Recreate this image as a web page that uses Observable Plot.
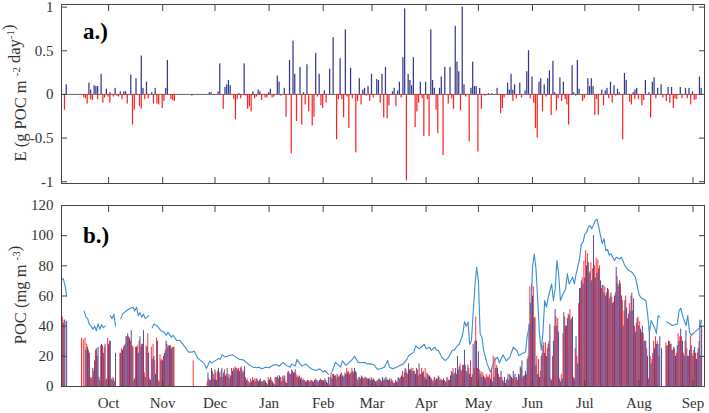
<!DOCTYPE html>
<html><head><meta charset="utf-8">
<script src="https://cdn.jsdelivr.net/npm/d3@7"></script>
<script src="https://cdn.jsdelivr.net/npm/@observablehq/plot@0.6"></script>
<style>
body{margin:0;background:#fff;}
#chart{position:relative;width:709px;height:413px;font-family:"Liberation Serif","Times New Roman",serif;}
#chart svg{position:absolute;left:0;overflow:visible;}
</style></head><body><div id="chart"></div>
<script>
// ---- axes / ticks ----
const startDate = "2010-09-04";
const monthTicks = ["2010-10-01","2010-11-01","2010-12-01","2011-01-01","2011-02-01","2011-03-01","2011-04-01","2011-05-01","2011-06-01","2011-07-01","2011-08-01","2011-09-01"];
const monthLabels = ["Oct","Nov","Dec","Jan","Feb","Mar","Apr","May","Jun","Jul","Aug","Sep"];
const eTicks = [-1,-0.5,0,0.5,1];
const pocTicks = [0,20,40,60,80,100,120];

// ---- panel a: E (day offset from start, value) ----
const ePos = [[3,0.11],[16,0.13],[17,0.05],[19,0.10],[20,0.09],[21,0.09],[23,0.23],[26,0.06],[28,0.02],[31,0.07],[34,0.03],[36,0.03],[37,0.03],[40,0.22],[43,0.18],[46,0.44],[47,0.07],[49,0.14],[52,0.02],[54,0.07],[60,0.07],[61,0.39],[85,0.02],[86,0.02],[90,0.03],[91,0.35],[94,0.08],[95,0.11],[96,0.16],[97,0.10],[102,0.01],[105,0.35],[110,0.03],[113,0.05],[114,0.03],[119,0.02],[120,0.06],[124,0.21],[125,0.14],[128,0.07],[131,0.39],[133,0.61],[134,0.23],[137,0.31],[139,0.02],[141,0.34],[146,0.47],[148,0.23],[151,0.04],[154,0.29],[156,0.65],[160,0.41],[163,0.74],[166,0.30],[171,0.18],[173,0.05],[174,0.07],[176,0.09],[178,0.23],[181,0.17],[182,0.16],[184,0.23],[186,0.31],[190,0.03],[191,0.07],[193,0.04],[194,0.14],[196,0.42],[197,0.98],[199,0.23],[200,0.16],[201,0.10],[202,0.42],[206,0.14],[209,0.14],[212,0.74],[213,0.16],[214,0.07],[217,0.07],[218,0.20],[220,0.31],[223,0.31],[226,0.78],[227,0.37],[228,0.26],[230,1.0],[231,0.11],[235,0.07],[236,0.37],[237,0.09],[238,0.09],[240,0.07],[245,0.01],[247,0.01],[250,0.07],[256,0.13],[257,0.05],[258,0.23],[259,0.05],[260,0.11],[263,0.13],[266,0.04],[267,0.26],[268,0.50],[270,0.20],[274,0.14],[275,0.18],[277,0.11],[279,0.18],[280,0.27],[282,0.38],[283,0.02],[286,0.19],[288,0.14],[293,0.33],[294,0.02],[296,0.39],[297,0.06],[302,0.18],[303,0.09],[304,0.18],[305,0.09],[310,0.05],[312,0.04],[313,0.07],[315,0.14],[317,0.10],[319,0.06],[320,0.02],[323,0.24],[324,0.16],[328,0.02],[329,0.05],[330,0.07],[335,0.16],[337,0.02],[339,0.14],[340,0.19],[342,0.07],[344,0.11],[348,0.08],[350,0.08],[355,0.08],[358,0.07],[360,0.07],[362,0.03],[366,0.20],[367,0.07]];
const eNeg = [[2,-0.18],[13,-0.04],[14,-0.05],[15,-0.11],[17,-0.06],[18,-0.07],[21,-0.06],[24,-0.10],[25,-0.04],[27,-0.03],[28,-0.10],[30,-0.03],[32,-0.02],[33,-0.03],[35,-0.06],[38,-0.11],[41,-0.35],[42,-0.18],[45,-0.14],[46,-0.17],[48,-0.06],[50,-0.05],[53,-0.11],[55,-0.11],[56,-0.12],[58,-0.16],[59,-0.08],[63,-0.06],[64,-0.07],[65,-0.08],[75,-0.02],[88,-0.01],[93,-0.17],[99,-0.06],[100,-0.29],[101,-0.06],[103,-0.05],[106,-0.02],[107,-0.17],[108,-0.14],[109,-0.20],[111,-0.05],[112,-0.03],[115,-0.07],[117,-0.04],[118,-0.04],[121,-0.04],[122,-0.03],[126,-0.02],[129,-0.26],[132,-0.68],[135,-0.31],[138,-0.35],[140,-0.12],[142,-0.20],[144,-0.36],[145,-0.26],[147,-0.03],[149,-0.13],[150,-0.16],[152,-0.10],[158,-0.52],[159,-0.06],[161,-0.06],[162,-0.27],[164,-0.03],[165,-0.39],[167,-0.05],[169,-0.67],[170,-0.08],[172,-0.12],[175,-0.02],[177,-0.08],[179,-0.04],[183,-0.10],[185,-0.27],[187,-0.28],[188,-0.13],[192,-0.14],[195,-0.04],[198,-0.99],[203,-0.38],[204,-0.20],[205,-0.10],[207,-0.05],[208,-0.48],[210,-0.06],[211,-0.48],[215,-0.18],[216,-0.45],[219,-0.70],[222,-0.11],[224,-0.05],[225,-0.17],[229,-0.19],[232,-0.03],[234,-0.54],[239,-0.66],[241,-0.17],[243,-0.02],[246,-0.01],[252,-0.22],[253,-0.16],[254,-0.04],[259,-0.08],[261,-0.05],[264,-0.04],[269,-0.05],[271,-0.10],[272,-0.39],[273,-0.50],[276,-0.20],[278,-0.03],[281,-0.24],[284,-0.19],[285,-0.05],[287,-0.08],[289,-0.06],[290,-0.12],[291,-0.35],[295,-0.02],[299,-0.08],[300,-0.05],[306,-0.24],[307,-0.06],[308,-0.24],[311,-0.13],[314,-0.05],[316,-0.10],[318,-0.02],[322,-0.52],[326,-0.09],[327,-0.12],[329,-0.06],[331,-0.06],[333,-0.13],[334,-0.07],[338,-0.27],[341,-0.05],[345,-0.04],[347,-0.08],[349,-0.10],[351,-0.16],[352,-0.05],[353,-0.06],[356,-0.05],[359,-0.05],[361,-0.12],[363,-0.07],[364,-0.06]];

// ---- panel b: daily POC bars (index = day offset from start) ----
const pocRed = [
40,46,44,0,0,0,0,0,0,0, 0,0,32,31,32,28,24,6,6,10, 24,20,6,27,27,26,4,32,30,5, 6,3,0,0,22,25,26,28,33,33,
30,27,4,26,27,30,26,28,9,27, 35,5,26,28,17,32,4,21,18,20, 24,28,27,27,26,26,0,0,0,0, 0,0,0,0,0,0,17,0,0,0,
0,0,0,0,3,5,4,10,5,9, 10,9,10,6,11,8,6,5,12,12, 13,12,12,12,11,10,6,5,3,5, 6,5,5,4,4,3,3,4,2,6,
5,4,2,6,6,5,6,6,5,3, 9,9,8,10,9,8,7,7,6,5, 4,3,4,3,4,3,5,4,3,5, 4,3,4,2,1,9,8,7,5,7,
7,9,6,9,12,10,9,12,9,10, 5,6,5,6,5,6,5,5,6,4, 4,3,4,5,3,4,4,5,4,3, 4,2,4,3,5,6,10,9,11,8,
11,12,12,10,12,7,8,12,10,12, 9,7,6,4,5,4,5,6,5,4, 4,3,5,4,10,12,9,8,11,15, 10,14,14,9,12,17,8,12,46,12,
11,10,9,6,8,7,8,12,20,19, 14,8,6,6,3,2,5,4,7,5, 6,5,4,7,12,6,7,8,20,66, 68,66,46,20,18,10,22,29,29,25,
30,5,20,40,46,45,5,8,35,46, 40,48,51,45,6,25,20,55,65,72, 83,90,88,75,82,78,80,85,84,80, 65,67,66,62,64,60,59,56,62,73,
66,68,57,50,60,45,55,60,50,40, 42,46,43,36,35,30,25,5,20,18, 30,33,30,20,0,0,0,29,27,30, 28,24,25,22,35,33,33,22,30,25,
20,33,22,24,22,22,30,20,0];
const pocNavy = [
38,42,44,43,0,0,0,0,0,0, 0,0,0,0,24,26,22,5,12,17, 25,26,4,28,22,28,5,28,30,4, 5,22,0,0,22,24,27,33,35,32,
37,26,5,26,22,33,28,37,6,26, 22,4,18,20,8,30,3,17,17,22, 30,26,27,25,26,0,0,0,0,0, 0,0,0,0,0,0,0,0,0,0,
0,0,0,0,9,4,12,8,11,4, 12,6,12,9,7,12,8,7,10,11, 12,11,10,13,9,13,4,3,2,3, 4,3,5,3,5,3,4,3,1,4,
6,3,1,6,7,7,3,7,7,2, 10,8,11,9,11,6,6,5,4,4, 3,4,3,4,3,4,4,3,4,4, 3,5,3,6,6,5,8,7,8,6,
8,7,7,8,9,8,9,10,12,9, 4,6,7,5,6,5,5,4,5,5, 3,4,5,4,6,5,6,4,5,5, 3,2,3,6,5,7,6,12,9,15,
11,10,10,8,11,15,8,9,6,5, 8,7,5,3,6,5,7,4,4,5, 3,6,4,7,9,8,12,20,13,11, 14,24,10,14,8,6,28,30,30,23,
8,6,7,5,6,6,5,3,6,12, 12,6,10,4,6,4,8,8,6,10, 8,6,8,13,17,7,10,18,41,55, 60,45,14,8,6,20,27,22,20,28,
41,4,30,51,40,36,3,5,49,40, 45,47,44,46,5,33,15,65,70,68, 72,80,82,76,70,100,72,75,78,70, 67,62,60,65,58,62,55,60,79,68,
70,60,40,57,52,48,50,62,58,36, 45,40,38,40,30,30,20,39,15,22, 25,28,28,33,25,0,0,27,30,28, 24,26,20,27,30,38,30,20,37,20,
24,27,20,26,18,25,44,40,0];
// POC line: [day offset, value]; null marks a gap
const pocLine = [[0,71],[1,71.5],[2,67],[3,60],[4,null],
[13,50],[14,46],[15,45],[16,41],[17,40],[18,38],[19,40],[20,37],[21,41.5],[22,38],[23,41],[24,39],[25,40],[26,null],
[28,47],[29,45],[30,48],[31,40],[32,null],
[34,45],[35,48],[37,50],[39,51.5],[41,52.6],[42,50],[43,52.6],[44,47],[45,49],[46,46],[47,48],[48,45],[50,47],[51,null],
[52,39],[53,41.5],[55,40],[57,37],[59,36],[60,34],[61,36],[63,32.7],[64,34],[66,30.5],[68,30.5],[69,28.7],[71,26],[72,24],[73,22.8],[75,22.8],[76,23.5],[78,19],[80,17],[82,15],[83,12],[84,14],[85,16.8],[86,15.5],[88,17],[90,18.5],[91,18],[92,21],[94,19.5],[96,20.6],[98,21],[100,19.5],[102,18],[104,17.7],[106,16],[108,14],[110,12.8],[112,12.4],[113,12.8],[115,11.7],[117,12.8],[119,12.4],[121,14],[123,14.6],[125,13.5],[126,15],[127,16],[129,14],[131,12.8],[132,15],[134,13.5],[135,18],[136,16],[138,13.5],[140,15],[142,12.8],[144,11.3],[146,10.6],[148,11.7],[150,9.5],[151,10.6],[153,8],[154,null],
[155,9.5],[157,16],[158,15],[160,12.8],[161,17],[163,14],[165,16],[167,18.3],[168,20],[170,16],[172,15.7],[174,16],[175,15],[177,15],[179,14.4],[181,11.5],[183,11.7],[185,12.8],[187,17.2],[188,12.8],[190,11.7],[192,12.8],[194,14],[196,15],[198,18],[199,20.6],[202,22.8],[203,27],[205,25],[206,26],[208,28],[209,25],[211,26],[212,24],[214,26],[215,24],[216,24],[218,19.5],[220,17.2],[222,19.5],[224,24],[225,24],[227,27],[228,28],[230,34.5],[231,43],[232,40],[233,42.7],[234,28],[235,30.5],[237,67],[238,79],[239,70],[240,35],[241,32.7],[242,24],[244,15],[246,9.5],[248,17.2],[250,19.5],[251,15.5],[253,21],[255,17],[257,19.5],[259,26],[261,24],[262,20.6],[264,21.7],[266,22.8],[267,33.8],[269,43.8],[270,79],[271,88],[272,78],[273,57],[274,35],[275,24],[276,36],[277,57],[278,52.6],[279,59],[281,68],[282,57],[283,64.7],[284,83.5],[285,74.7],[286,57],[287,60],[289,64.7],[290,74.7],[291,68],[293,72.5],[294,68],[295,74.7],[297,84.6],[298,94.6],[299,95.7],[300,101],[301,102],[302,105.6],[303,106.7],[304,104.5],[306,110],[307,111],[308,105.6],[309,100],[310,94.6],[311,98],[312,90],[313,91],[314,87],[315,88],[317,83.5],[318,85.7],[320,84.6],[321,85.7],[323,80],[325,77],[327,75.8],[329,72.5],[331,61.4],[332,59],[335,57],[336,48],[337,36],[338,43.8],[340,39],[341,35],[342,47],[343,46],[344,null],
[347,42.7],[349,41.5],[350,40.4],[353,41.5],[354,50],[355,52],[356,47],[358,40.4],[359,47],[360,36],[361,33.8],[363,36],[364,37],[366,39],[367,43.8]];

// ---- styling ----
const navy = "#35358c", red = "#ff2020", lineColor = "#3a8ed2", axisColor = "#333";
const font = '"Liberation Serif","Times New Roman",serif';
const t0 = Date.parse(startDate + "T00:00:00Z");
const toDate = (d, off = 0) => new Date(t0 + (d + off) * 864e5);
const xDomain = [toDate(0), toDate(368.6)];
const tickDates = monthTicks.map(s => new Date(s + "T00:00:00Z"));
const W = 709;

const pocRedRows = pocRed.map((v, i) => [i, v]).filter(d => d[1] > 0);
const pocNavyRows = pocNavy.map((v, i) => [i, v]).filter(d => d[1] > 0);

const frameAxes = (yTicks, yFmt, showMonths) => [
  Plot.frame({stroke: "#444", strokeWidth: 1}),
  Plot.axisY(yTicks, {anchor: "left", tickSize: -6, tickPadding: 14, tickFormat: yFmt, label: null, fill: axisColor, stroke: "#444"}),
  Plot.axisY(yTicks, {anchor: "right", tickSize: -6, tickFormat: () => "", label: null, stroke: "#444"}),
  Plot.axisX(tickDates, {anchor: "top", tickSize: -6, tickFormat: () => "", label: null, stroke: "#444"}),
  Plot.axisX(tickDates, {anchor: "bottom", tickSize: -6, tickPadding: 17, label: null, stroke: "#444", fill: axisColor,
    tickFormat: showMonths ? (d => monthLabels[tickDates.findIndex(t => +t === +d)]) : (() => "")})
];

const plotA = Plot.plot({
  width: W, height: 190,
  marginLeft: 61, marginRight: 5, marginTop: 4, marginBottom: 7,
  style: {fontFamily: font, fontSize: "15px", color: axisColor, background: "transparent"},
  x: {type: "utc", domain: xDomain},
  y: {domain: [-1.02, 1.03]},
  marks: [
    Plot.ruleY([0], {stroke: "#666", strokeWidth: 1}),
    Plot.rectY(ePos, {x1: d => toDate(d[0], -0.35), x2: d => toDate(d[0], 0.35), y1: 0, y2: d => d[1], fill: navy, clip: true}),
    Plot.rectY(eNeg, {x1: d => toDate(d[0], -0.35), x2: d => toDate(d[0], 0.35), y1: 0, y2: d => d[1], fill: red, clip: true}),
    ...frameAxes(eTicks, d => String(d), false)
  ]
});

const plotB = Plot.plot({
  width: W, height: 223,
  marginLeft: 61, marginRight: 5, marginTop: 15, marginBottom: 27,
  style: {fontFamily: font, fontSize: "15px", color: axisColor, background: "transparent"},
  x: {type: "utc", domain: xDomain},
  y: {domain: [0, 120]},
  marks: [
    Plot.rectY(pocRedRows, {x1: d => toDate(d[0], -0.5), x2: d => toDate(d[0], 0.02), y1: 0, y2: d => d[1], fill: red, clip: true}),
    Plot.rectY(pocNavyRows, {x1: d => toDate(d[0], 0), x2: d => toDate(d[0], 0.5), y1: 0, y2: d => d[1], fill: navy, clip: true}),
    Plot.line(pocLine, {x: d => toDate(d[0]), y: d => d[1], stroke: lineColor, strokeWidth: 1.1, clip: true}),
    ...frameAxes(pocTicks, d => String(d), true)
  ]
});

const root = document.getElementById("chart");
plotA.style.top = "0px";
plotB.style.top = "190px";
root.appendChild(plotA);
root.appendChild(plotB);

function addTitle(svg, x, y, parts) {
  const t = d3.select(svg).append("text")
    .attr("transform", `translate(${x},${y}) rotate(-90)`)
    .attr("text-anchor", "middle")
    .attr("font-family", font).attr("font-size", 16.5).attr("fill", axisColor);
  parts.forEach(p => {
    if (p.sup) {
      t.append("tspan").attr("dy", -6).attr("font-size", 11).text(p.sup);
      t.append("tspan").attr("dy", 6).text("");
    } else t.append("tspan").text(p.t);
  });
}
function addPanelLabel(svg, x, y, s) {
  d3.select(svg).append("text").attr("x", x).attr("y", y).attr("text-anchor", "start")
    .attr("font-family", font).attr("font-size", 23).attr("font-weight", "bold").attr("fill", "#000").text(s);
}
addTitle(plotA, 26, 93, [{t: "E (g POC m "}, {sup: "-2"}, {t: " day"}, {sup: "-1"}, {t: ")"}]);
addTitle(plotB, 26, 105, [{t: "POC (mg m "}, {sup: "-3"}, {t: ")"}]);
addPanelLabel(plotA, 83, 39, "a.)");
addPanelLabel(plotB, 83, 53, "b.)");
</script></body></html>
